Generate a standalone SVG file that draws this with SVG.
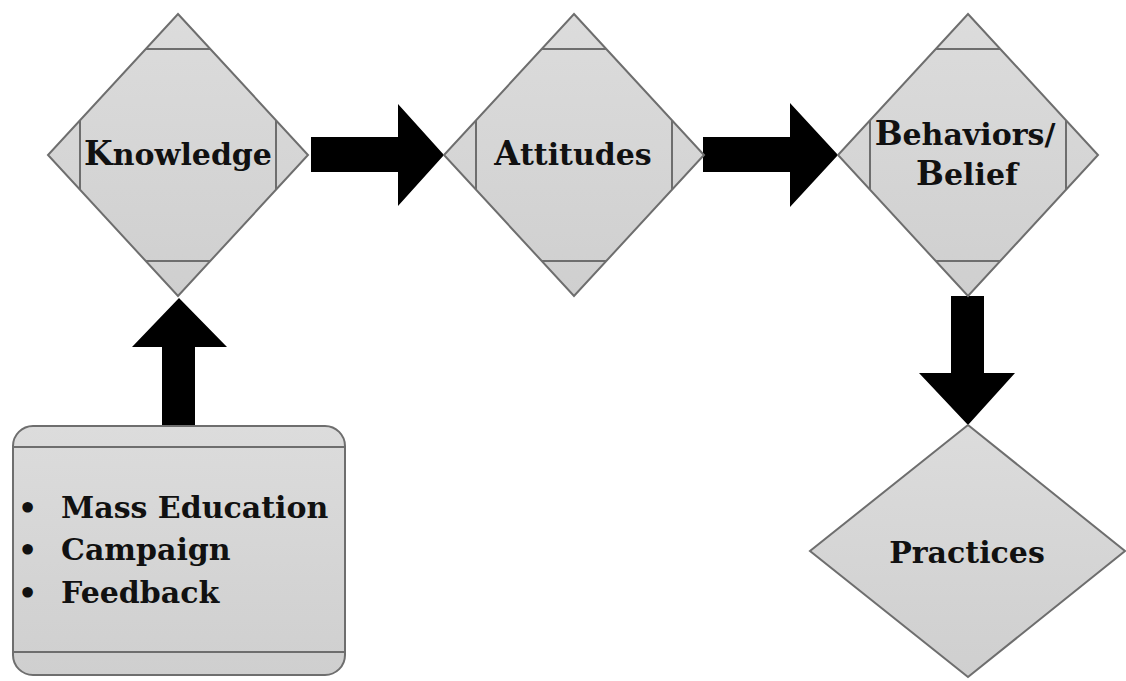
<svg xmlns="http://www.w3.org/2000/svg" width="1126" height="681" viewBox="0 0 1126 681">
  <defs>
    <linearGradient id="g" x1="0" y1="0" x2="0" y2="1">
      <stop offset="0" stop-color="#dcdcdc"/>
      <stop offset="1" stop-color="#cfcfcf"/>
    </linearGradient>
  </defs>
  <style>
    .shape { fill: url(#g); stroke: #6e6e6e; stroke-width: 2; }
    .cut { fill: none; stroke: #6e6e6e; stroke-width: 2; }
    .arrow { fill: #000; }
    .lbl { font-family: "DejaVu Serif", "Liberation Serif", serif; font-weight: bold; font-size: 30px; fill: #111; }
    .big { font-size: 33px; }
  </style>
  <rect width="1126" height="681" fill="#fff"/>

  <g id="connectors">
    <polygon class="arrow" points="311,137 398,137 398,104 444,155 398,206 398,172 311,172"/>
    <polygon class="arrow" points="703,137 790,137 790,103 838,155 790,207 790,172 703,172"/>
    <polygon class="arrow" points="162,426 162,347 132,347 179,298 227,347 195,347 195,426"/>
    <polygon class="arrow" points="951,296 984,296 984,373 1015,373 968,425 919,373 951,373"/>
  </g>

  <g id="knowledge">
    <polygon class="shape" points="178,14 308,155 178,296 48,155"/>
    <path class="cut" d="M146,49 H210 M146,261 H210 M80,120 V190 M276,120 V190"/>
    <text class="lbl" x="178" y="165" text-anchor="middle"><tspan class="big">K</tspan>nowledge</text>
  </g>

  <g id="attitudes">
    <polygon class="shape" points="574,14 704,155 574,296 444,155"/>
    <path class="cut" d="M542,49 H606 M542,261 H606 M476,120 V190 M672,120 V190"/>
    <text class="lbl" x="573" y="165" text-anchor="middle"><tspan class="big">A</tspan>ttitudes</text>
  </g>

  <g id="behaviors">
    <polygon class="shape" points="968,14 1098,155 968,296 838,155"/>
    <path class="cut" d="M936,49 H1000 M936,261 H1000 M870,120 V190 M1066,120 V190"/>
    <text class="lbl" x="965" y="145" text-anchor="middle"><tspan class="big">B</tspan>ehaviors/</text>
    <text class="lbl" x="967" y="185" text-anchor="middle"><tspan class="big">B</tspan>elief</text>
  </g>

  <g id="practices">
    <polygon class="shape" points="968,425 1125,551 968,677 810,551"/>
    <text class="lbl" x="967" y="563" text-anchor="middle">Practices</text>
  </g>

  <g id="inputs">
    <rect class="shape" x="13" y="426" width="332" height="249" rx="20" ry="20"/>
    <path class="cut" d="M13,447 H345 M13,652 H345"/>
    <text class="lbl" x="18" y="518">•</text>
    <text class="lbl" x="61" y="518">Mass Education</text>
    <text class="lbl" x="18" y="560">•</text>
    <text class="lbl" x="61" y="560">Campaign</text>
    <text class="lbl" x="18" y="603">•</text>
    <text class="lbl" x="61" y="603">Feedback</text>
  </g>
</svg>
